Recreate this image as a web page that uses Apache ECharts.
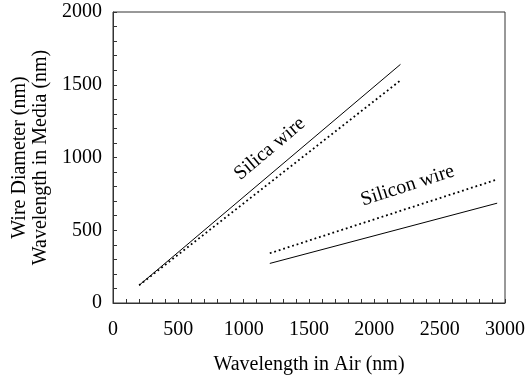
<!DOCTYPE html>
<html>
<head>
<meta charset="utf-8">
<script src="https://cdn.jsdelivr.net/npm/echarts@6/dist/echarts.min.js"></script>
<style>
  html, body { margin: 0; padding: 0; background: #fff; }
  #chart { width: 528px; height: 380px; }
</style>
</head>
<body>
<div id="chart"></div>
<script>
// wavelength in air (nm) vs wire diameter / wavelength in media (nm)
const silicaSolid = [[200, 122], [2200, 1640]];
const silicaDotted = [[200, 122], [2200, 1530]];
const siliconDotted = [[1200, 342], [2930, 846]];
const siliconSolid = [[1200, 272], [2940, 686]];

const silicaLabel = [1200, 1060];
const siliconLabel = [2255, 806];

const FONT = 'Liberation Serif';

const chart = echarts.init(document.getElementById('chart'));

// ticks every 100, labels only on multiples of 500
const labelEvery500 = v => (v % 500 === 0 ? String(v) : '');

const tickStyle = {
    show: true,
    inside: true,
    length: 4,
    lineStyle: { color: '#333', width: 1 }
};

chart.setOption({
    animation: false,
    grid: {
        left: 113, right: 20, top: 12, bottom: 74,
        show: true, borderColor: '#333', borderWidth: 1
    },
    xAxis: {
        type: 'value',
        min: 0, max: 3000, interval: 100,
        name: 'Wavelength in Air (nm)',
        nameLocation: 'middle',
        nameGap: 52,
        nameTextStyle: { fontFamily: FONT, fontSize: 20, color: '#000' },
        axisLine: { lineStyle: { color: '#333' } },
        axisTick: tickStyle,
        splitLine: { show: false },
        axisLabel: {
            fontFamily: FONT, fontSize: 20, color: '#000', margin: 17,
            formatter: labelEvery500, showMinLabel: true, showMaxLabel: true,
            hideOverlap: false
        }
    },
    yAxis: {
        type: 'value',
        min: 0, max: 2000, interval: 100,
        name: 'Wire Diameter (nm)\nWavelength in Media (nm)',
        nameLocation: 'middle',
        nameRotate: 90,
        nameGap: 53,
        nameTextStyle: { fontFamily: FONT, fontSize: 20, color: '#000', lineHeight: 21 },
        axisLine: { lineStyle: { color: '#333' } },
        axisTick: tickStyle,
        splitLine: { show: false },
        axisLabel: {
            fontFamily: FONT, fontSize: 20, color: '#000', margin: 11,
            formatter: labelEvery500, hideOverlap: false
        }
    },
    series: [
        {
            type: 'line', data: silicaSolid, symbol: 'none',
            lineStyle: { color: '#000', width: 1 },
            markPoint: {
                symbol: 'circle', symbolSize: 0,
                label: {
                    show: true, formatter: 'Silica wire', rotate: 40,
                    fontFamily: FONT, fontSize: 20, color: '#000',
                    position: 'inside'
                },
                data: [{ coord: silicaLabel }]
            }
        },
        {
            type: 'line', data: silicaDotted, symbol: 'none',
            lineStyle: { color: '#000', width: 1.8, type: [1.8, 2.9] }
        },
        {
            type: 'line', data: siliconDotted, symbol: 'none',
            lineStyle: { color: '#000', width: 1.8, type: [1.8, 2.9] },
            markPoint: {
                symbol: 'circle', symbolSize: 0,
                label: {
                    show: true, formatter: 'Silicon wire', rotate: 18,
                    fontFamily: FONT, fontSize: 20, color: '#000',
                    position: 'inside'
                },
                data: [{ coord: siliconLabel }]
            }
        },
        {
            type: 'line', data: siliconSolid, symbol: 'none',
            lineStyle: { color: '#000', width: 1 }
        }
    ]
});
</script>
</body>
</html>
